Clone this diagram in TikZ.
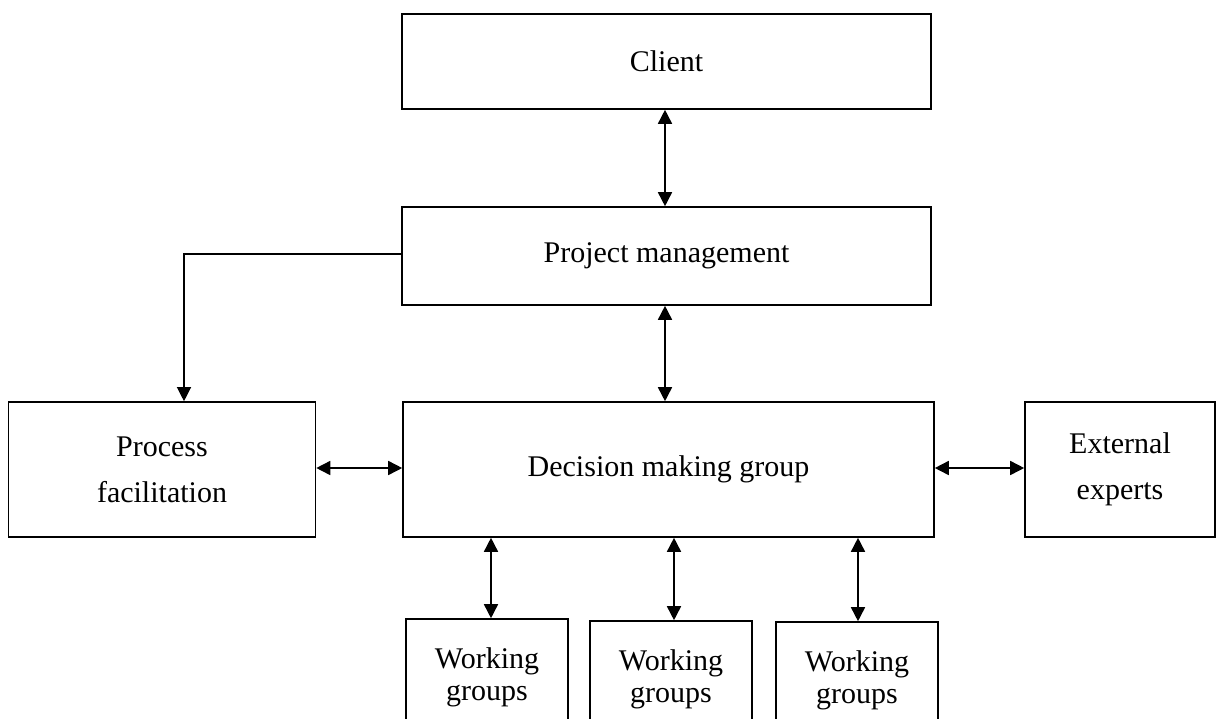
\documentclass[tikz,border=0pt]{standalone}
\usepackage{fontspec}
\setmainfont{Liberation Serif}
\usetikzlibrary{arrows.meta,calc}
\begin{document}
\begin{tikzpicture}[x=1pt,y=-1pt,
  box/.style={draw=black, line width=1.6pt, fill=white, inner sep=0pt, align=center,
    font=\fontsize{30}{46}\selectfont},
  wgbox/.style={box, minimum width=162pt, minimum height=117pt, font=\fontsize{30}{32}\selectfont},
  link/.style={line width=1.6pt, {Triangle[length=14pt,width=14pt]}-{Triangle[length=14pt,width=14pt]}},
  onelink/.style={line width=1.2pt, -{Triangle[length=14pt,width=14pt]}}]
\useasboundingbox (0,0) rectangle (1216,718);
\clip (0,0) rectangle (1216,718);
\node[box, minimum width=529pt, minimum height=95pt] (client) at (666.5,61.5) {Client};
\node[box, minimum width=529pt, minimum height=98pt] (pm) at (666.5,256) {Project management};
\node[box, minimum width=531pt, minimum height=135pt] (dm) at (668.5,469.5) {Decision making group};
\node[box, minimum width=307pt, minimum height=135pt] (pf) at (162,469.5) {Process\\facilitation};
\node[box, minimum width=190pt, minimum height=135pt] (ee) at (1120,469.5) {External\\experts};
\node[wgbox] (wg1) at (487,677.5) {Working\\groups};
\node[wgbox] (wg2) at (671,679.5) {Working\\groups};
\node[wgbox] (wg3) at (857,680.5) {Working\\groups};
\draw[link] ([xshift=-1.5pt]client.south) -- ([xshift=-1.5pt]pm.north);
\draw[link] ([xshift=-1.5pt]pm.south) -- ([xshift=-1.5pt]pm.south |- dm.north);
\draw[link] ([yshift=1.5pt]pf.east) -- ([yshift=1.5pt]dm.west);
\draw[link] ([yshift=1.5pt]dm.east) -- ([yshift=1.5pt]ee.west);
\draw[link] ([xshift=4pt]wg1.north |- dm.south) -- ([xshift=4pt]wg1.north);
\draw[link] ([xshift=3pt]wg2.north |- dm.south) -- ([xshift=3pt]wg2.north);
\draw[link] ([xshift=1pt]wg3.north |- dm.south) -- ([xshift=1pt]wg3.north);
\draw[onelink] ([yshift=2pt]pm.west) -| ([xshift=22pt]pf.north);
\end{tikzpicture}
\end{document}
